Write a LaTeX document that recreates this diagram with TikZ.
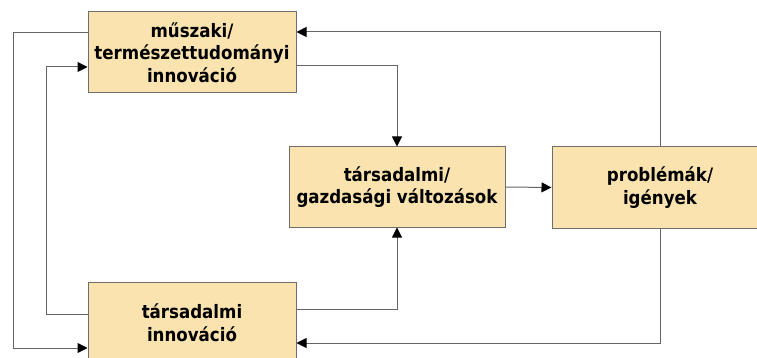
\documentclass[tikz,border=0pt]{standalone}
\usepackage{fontspec}
\setmainfont{DejaVu Sans Condensed}
\usetikzlibrary{arrows.meta,calc}
\definecolor{boxfill}{RGB}{250,227,174}
\definecolor{boxline}{RGB}{110,110,110}
\definecolor{linecol}{RGB}{100,100,100}
\tikzset{
  box/.style={draw=boxline, line width=1pt, fill=boxfill, inner sep=0pt,
    align=center, font=\fontsize{18.5}{22.5}\selectfont\bfseries},
  conn/.style={draw=linecol, line width=1pt, -{Triangle[length=10pt,width=10pt,color=black]}},
}
\begin{document}
\begin{tikzpicture}[x=1pt,y=-1pt]
\useasboundingbox (0,0) rectangle (757,358);
\node[box, minimum width=208pt, minimum height=81pt] (A) at (192,52.5) {műszaki/\\természettudományi\\innováció};
\node[box, minimum width=216pt, minimum height=80pt] (B) at (397,187) {társadalmi/\\gazdasági változások};
\node[box, minimum width=216pt, minimum height=81pt] (C) at (660,187.5) {problémák/\\igények};
\node[box, minimum width=208pt, minimum height=81pt] (D) at (192,322.5) {társadalmi\\innováció};
% A -> B, D -> B
\draw[conn] ([yshift=-13.5pt]A.east) -| (B.north);
\draw[conn] ([yshift=13.5pt]D.east) -| (B.south);
% B -> C
\draw[conn] (B.east) -- (C.west);
% C -> A, C -> D
\draw[conn] (C.north) |- ([yshift=20.5pt]A.east);
\draw[conn] (C.south) |- ([yshift=-20.5pt]D.east);
% outer left: A -> D
\draw[conn] ([yshift=19.5pt]A.west) -- ++(-74,0) |- ([yshift=-25.5pt]D.west);
% inner left: D -> A
\draw[conn] ([yshift=8.5pt]D.west) -- ++(-41,0) |- ([yshift=-14.5pt]A.west);
\end{tikzpicture}
\end{document}
